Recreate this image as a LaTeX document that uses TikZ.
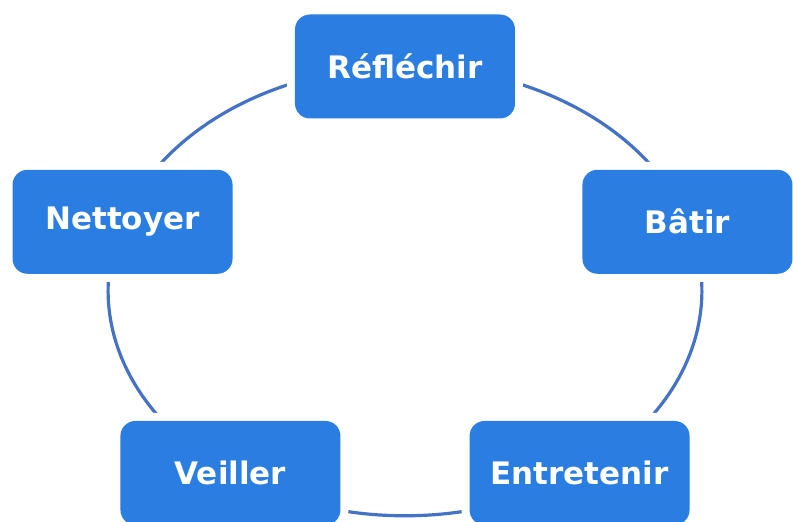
\documentclass[tikz,border=0pt]{standalone}
\usepackage{fontspec}
\setmainfont{DejaVu Sans}
\usetikzlibrary{backgrounds}

\definecolor{stepblue}{RGB}{42,125,225}
\definecolor{ringblue}{RGB}{68,114,196}

\begin{document}
\begin{tikzpicture}[stage/.style = {fill = stepblue, rounded corners = 15pt, minimum width = 220pt, minimum height = 104pt, text = white, font = \fontsize{31}{37}\selectfont\bfseries, preaction = {draw = white, line width = 16pt}}, ring/.style = {draw = ringblue, line width = 3.2pt}]
	\useasboundingbox (-405pt,-230.8pt) rectangle (388pt,291.2pt);
	\node[stage] (reflechir) at (90:297pt and 224.7pt) {Réfléchir};
	\node[stage] (nettoyer) at (162:297pt and 224.7pt) {Nettoyer};
	\node[stage] (veiller) at (234:297pt and 224.7pt) {Veiller};
	\node[stage] (entretenir) at (306:297pt and 224.7pt) {Entretenir};
	\node[stage, minimum width = 210pt] (batir) at (18:297pt and 224.7pt) {Bâtir};
	\begin{scope}[on background layer]
	\draw[ring] (reflechir.center) to[out = 180, in = 66.75, out looseness = 1.02, in looseness = 0.8] (nettoyer.center);
	\draw[ring] (nettoyer.center) to[out = 246.75, in = 151.2, out looseness = 0.94, in looseness = 1.11] (veiller.center);
	\draw[ring] (veiller.center) to[out = 331.2, in = 208.8, looseness = 0.87] (entretenir.center);
	\draw[ring] (entretenir.center) to[out = 28.8, in = 293.25, out looseness = 1.11, in looseness = 0.94] (batir.center);
	\draw[ring] (batir.center) to[out = 113.25, in = 0, out looseness = 0.8, in looseness = 1.02] (reflechir.center);
	\end{scope}
\end{tikzpicture}
\end{document}
